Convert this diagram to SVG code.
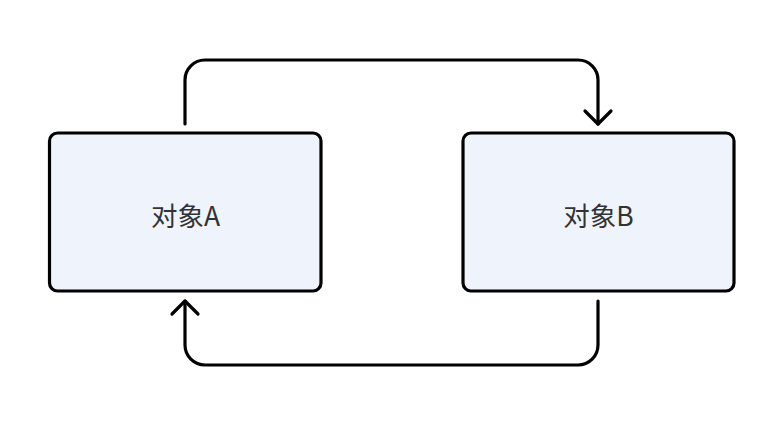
<svg xmlns="http://www.w3.org/2000/svg" width="784" height="430" viewBox="0 0 784 430">
<style>
.node rect{fill:#EFF3FC;stroke:#000;stroke-width:3.2}
.node text{font-family:"Noto Sans CJK SC","Noto Sans",sans-serif;font-size:26.5px;fill:#333;text-anchor:middle}
.conn path{fill:none;stroke:#000;stroke-width:3.2;stroke-linecap:round;stroke-linejoin:round}
</style>
<rect width="784" height="430" fill="#fff"/>
<g id="nodeA" class="node">
<rect x="49.5" y="133" width="271.5" height="158" rx="8"/>
<text x="185.5" y="225.5">对象A</text>
</g>
<g id="nodeB" class="node">
<rect x="463" y="133" width="271" height="158" rx="8"/>
<text x="598.5" y="225.5">对象B</text>
</g>
<g id="connectors" class="conn">
<path d="M185 124 V80 A20 20 0 0 1 205 60 H578 A20 20 0 0 1 598 80 V124"/>
<path d="M585 111 L598 124 L611 111"/>
<path d="M598 301 V345 A20 20 0 0 1 578 365 H205 A20 20 0 0 1 185 345 V301"/>
<path d="M172 314 L185 301 L198 314"/>
</g>
</svg>
